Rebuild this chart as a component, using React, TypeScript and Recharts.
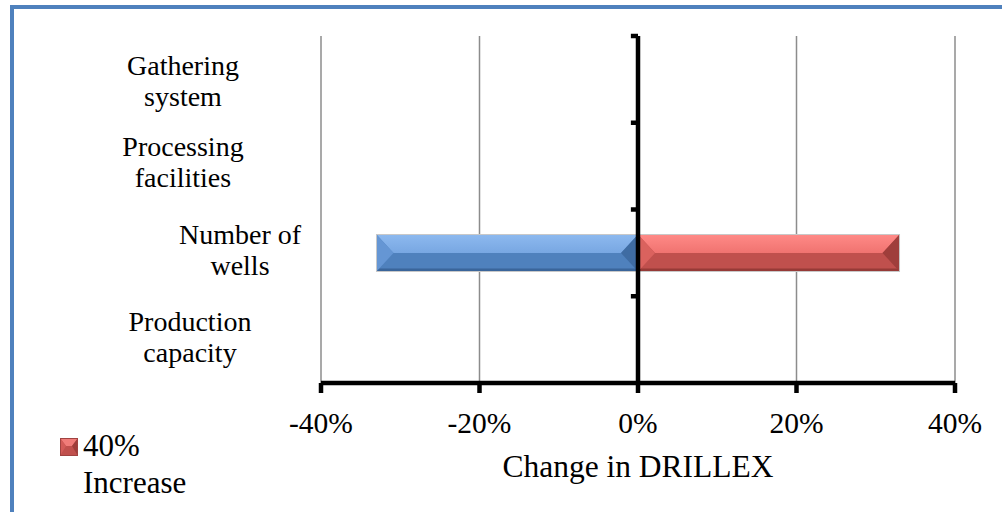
import React from 'react';
import {
    BarChart,
    Bar,
    XAxis,
    YAxis,
    CartesianGrid,
    ReferenceLine
} from 'recharts';

const categories = ['Gathering system', 'Processing facilities', 'Number of wells', 'Production capacity'];
const decreaseValues = [0, 0, -0.33, 0];
const increaseValues = [0, 0, 0.33, 0];
const seriesNames = ['40% Decrease', '40% Increase'];
const xTicks = [-0.4, -0.2, 0, 0.2, 0.4];
const axisTitle = 'Change in DRILLEX';

const data = categories.map((name, i) => ({
    name,
    decrease: decreaseValues[i],
    increase: increaseValues[i]
}));

const FONT = '"Liberation Serif", "Times New Roman", serif';
const AXIS_W = 4.5;

// Excel places the wrapped category labels a bit irregularly: [dx, dy]
const labelShift: Record<string, [number, number]> = {
    'Gathering system': [0, 4],
    'Processing facilities': [0, -2],
    'Number of wells': [57, -1],
    'Production capacity': [7, -1]
};

const palettes = {
    blue: { main: '#4F81BD', top: '#8DB9EF', topEnd: '#78A7E2', left: '#6596D4', right: '#3F6CA3', edge: '#3A659A' },
    red: { main: '#C0504D', top: '#FF8A87', topEnd: '#F07370', left: '#DA625E', right: '#9F3E3B', edge: '#963A37' }
};

function BevelBar(props: any) {
    let { x, y, width, height } = props;
    const p = palettes[props.tone as 'blue' | 'red'];
    if (width < 0) { x += width; width = -width; }
    if (height < 0) { y += height; height = -height; }
    if (!width || width < 1) return null;
    const b = Math.min(17, width / 2);
    const h2 = height / 2;
    const gid = `top-${props.tone}`;
    return (
        <g>
            <defs>
                <linearGradient id={gid} x1="0" y1="0" x2="0" y2="1">
                    <stop offset="0%" stopColor={p.top} />
                    <stop offset="100%" stopColor={p.topEnd} />
                </linearGradient>
            </defs>
            <rect x={x} y={y} width={width} height={height} fill={p.main} />
            <rect x={x} y={y + height - 3} width={width} height={3} fill={p.edge} />
            <polygon points={`${x},${y} ${x + width},${y} ${x + width - b},${y + h2} ${x + b},${y + h2}`} fill={`url(#${gid})`} />
            <polygon points={`${x},${y} ${x + b},${y + h2} ${x},${y + height}`} fill={p.left} />
            <polygon points={`${x + width},${y} ${x + width - b},${y + h2} ${x + width},${y + height}`} fill={p.right} />
            <rect x={x} y={y} width={width} height={height} fill="none" stroke="#C8C8C8" strokeWidth={1} />
        </g>
    );
}

function CategoryTick(props: any) {
    const { x, y, payload } = props;
    const label: string = payload.value;
    const cut = label.lastIndexOf(' ');
    const lines = [label.slice(0, cut), label.slice(cut + 1)];
    const [dx, dy] = labelShift[label] || [0, 0];
    const cx = x - 130 + dx;
    return (
        <text x={cx} y={y - 8 + dy} textAnchor="middle" fontSize={28} fontFamily={FONT} fill="#000">
            {lines.map((l, i) => (
                <tspan key={i} x={cx} dy={i === 0 ? 0 : 31}>{l}</tspan>
            ))}
        </text>
    );
}

function LegendIcon() {
    return (
        <svg width={18} height={18} style={{ position: 'absolute', left: 60, top: 438 }}>
            <rect x={0} y={0} width={18} height={18} fill="#C0504D" />
            <polygon points="0,0 18,0 12,8 6,8" fill="#F07C79" />
            <polygon points="0,0 6,8 0,18" fill="#D35B58" />
            <polygon points="18,0 12,8 18,18" fill="#9F3E3B" />
            <rect x={0.5} y={0.5} width={17} height={17} fill="none" stroke="#A04341" strokeWidth={1} />
        </svg>
    );
}

export default function App() {
    return (
        <div style={{ position: 'relative', width: 1002, height: 512, overflow: 'hidden', background: '#fff' }}>
            <style>{`body{margin:0}`}</style>
            <BarChart
                width={1002}
                height={512}
                data={data}
                layout="vertical"
                stackOffset="sign"
                barSize={37}
                margin={{ top: 36, right: 47, left: 0, bottom: 0 }}
            >
                <CartesianGrid horizontal={false} stroke="#8C8C8C" strokeWidth={1.5} />
                <XAxis
                    type="number"
                    domain={[-0.4, 0.4]}
                    ticks={xTicks}
                    height={129}
                    tickFormatter={(v) => `${Math.round(v * 100)}%`}
                    axisLine={{ stroke: '#000', strokeWidth: AXIS_W }}
                    tickLine={{ stroke: '#000', strokeWidth: AXIS_W }}
                    tickSize={10}
                    tickMargin={19}
                    tick={{ fill: '#000', fontSize: 29.5, fontFamily: FONT }}
                    label={{ value: axisTitle, position: 'insideBottom', offset: 35, fill: '#000', fontSize: 31.5, fontFamily: FONT }}
                />
                <YAxis
                    type="category"
                    dataKey="name"
                    width={321}
                    axisLine={false}
                    tickLine={false}
                    tick={<CategoryTick />}
                />
                <Bar
                    dataKey="decrease"
                    name={seriesNames[0]}
                    stackId="a"
                    fill="#4F81BD"
                    shape={(p: any) => <BevelBar {...p} tone="blue" />}
                    isAnimationActive={false}
                />
                <Bar
                    dataKey="increase"
                    name={seriesNames[1]}
                    stackId="a"
                    fill="#C0504D"
                    shape={(p: any) => <BevelBar {...p} tone="red" />}
                    isAnimationActive={false}
                />
                <ReferenceLine x={0} stroke="#000" strokeWidth={AXIS_W} />
                {categories.map((c) => (
                    <ReferenceLine
                        key={c}
                        segment={[{ x: -0.009, y: c }, { x: 0, y: c }]}
                        position="start"
                        stroke="#000"
                        strokeWidth={AXIS_W}
                    />
                ))}
            </BarChart>
            <div
                style={{
                    position: 'absolute',
                    left: 10,
                    top: 5,
                    width: 1100,
                    height: 1100,
                    borderLeft: '4px solid #4F81BD',
                    borderTop: '4px solid #4F81BD',
                    pointerEvents: 'none'
                }}
            />
            <LegendIcon />
            <div
                style={{
                    position: 'absolute',
                    left: 83,
                    top: 427,
                    width: 120,
                    fontFamily: FONT,
                    fontSize: 31,
                    lineHeight: '37px',
                    color: '#000'
                }}
            >
                {seriesNames[1]}
            </div>
        </div>
    );
}
